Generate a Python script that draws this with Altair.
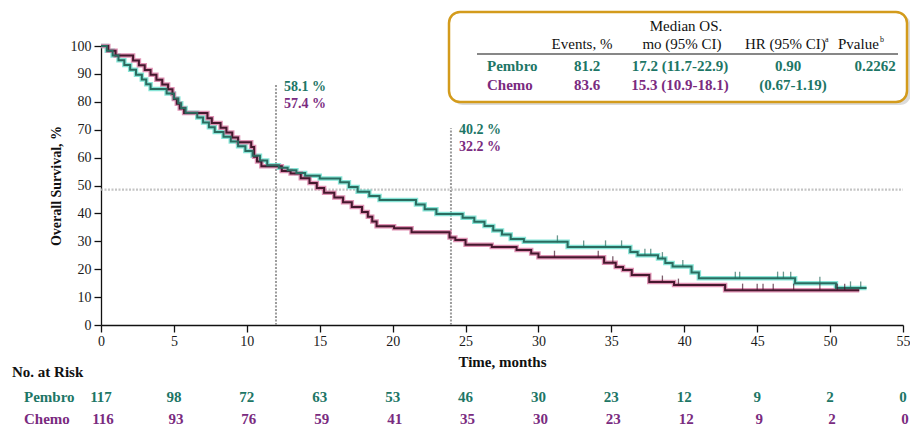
import altair as alt
import pandas as pd
import numpy as np

FONT = "Liberation Serif"
TEAL = "#1d7666"
PURPLE = "#7a2b7f"
TEAL_LINE = "#2a6c60"
TEAL_GLOW = "#5fdcc9"
PURP_LINE = "#46182e"
PURP_GLOW = "#d66f9c"
GOLD = "#d39b1c"

# ---------------- data ----------------
pembro_t = [0, 0.4, 0.8, 1.2, 1.6, 2.0, 2.4, 2.8, 3.1, 3.4, 4.5, 5.0, 5.3, 5.5, 5.8, 6.6, 7.0, 7.4,
            7.8, 8.4, 8.9, 9.4, 9.9, 10.4, 10.9, 11.4, 12.2, 12.8, 13.4, 14.0, 15.0, 16.4, 17.0, 17.6,
            18.4, 19.1, 21.6, 22.2, 23.0, 24.8, 25.6, 26.3, 26.9, 27.5, 28.1, 29.0, 32.0, 36.3, 36.8,
            38.2, 38.7, 39.2, 40.5, 41.0, 47.6, 50.4]
pembro_s = [100, 98.3, 96.6, 94.9, 93.2, 91.5, 89.7, 88.0, 86.3, 84.6, 83.0, 81.2, 79.5, 77.8, 76.1, 74.4, 72.6, 70.9,
            69.2, 67.5, 65.8, 64.1, 62.4, 60.7, 59.0, 57.3, 56.4, 55.5, 54.5, 53.5, 52.5, 51.2, 49.5, 47.8,
            46.2, 44.8, 43.2, 41.5, 39.8, 38.4, 37.0, 35.5, 33.9, 32.4, 30.8, 29.8, 28.0, 26.2, 25.0,
            23.8, 22.2, 21.0, 18.8, 16.8, 15.0, 13.3]
pembro_end = 52.5
pembro_cens = [31.3, 33.1, 34.6, 35.7, 37.3, 37.7, 38.5, 39.9, 43.5, 43.8, 46.4, 46.8, 47.3, 49.3, 51.4, 52.1]

chemo_t = [0, 0.5, 1.0, 2.2, 2.6, 3.0, 3.4, 3.8, 4.2, 4.6, 4.9, 5.0, 5.2, 5.4, 5.7, 7.3, 7.6, 8.2, 8.6,
           9.0, 9.4, 10.3, 10.5, 10.7, 11.0, 12.4, 13.0, 13.7, 14.3, 14.8, 15.3, 16.0, 16.6, 17.2, 17.9,
           18.3, 18.6, 18.9, 20.1, 21.3, 23.9, 24.3, 25.0, 26.8, 28.5, 29.5, 30.0, 34.5, 35.3, 35.8,
           36.4, 37.6, 39.3, 42.8]
chemo_s = [100, 98.3, 96.6, 94.8, 93.1, 91.4, 89.7, 87.9, 86.2, 84.5, 82.8, 81.0, 79.3, 77.6, 76.0, 74.1, 72.4, 70.7, 69.0,
           67.2, 65.5, 63.8, 60.3, 58.6, 56.9, 55.2, 54.3, 52.6, 50.9, 49.1, 47.4, 45.7, 44.0, 42.3, 40.5,
           38.8, 37.1, 35.4, 34.7, 33.2, 31.4, 30.5, 28.8, 28.0, 26.9, 25.6, 24.3, 22.3, 20.8, 19.7,
           17.9, 15.4, 14.3, 12.5]
chemo_end = 52.0
chemo_cens = [31.1, 34.1, 35.1, 38.5, 39.6, 44.0, 45.0, 45.4, 46.1, 47.5, 49.3, 50.5, 51.0]

risk_times = [0, 5, 10, 15, 20, 25, 30, 35, 40, 45, 50, 55]
risk_pembro = [117, 98, 72, 63, 53, 46, 30, 23, 12, 9, 2, 0]
risk_chemo = [116, 93, 76, 59, 41, 35, 30, 23, 12, 9, 2, 0]

landmark_t = [12, 24]
landmark_top = [86, 70.5]
landmark_pembro = ["58.1 %", "40.2 %"]
landmark_chemo = ["57.4 %", "32.2 %"]
median_level = 48.5

pembro_row = ["Pembro", "81.2", "17.2 (11.7-22.9)", "0.90", "0.2262"]
chemo_row = ["Chemo", "83.6", "15.3 (10.9-18.1)", "(0.67-1.19)"]

# ---------------- frames ----------------
def curve_df(t, s, end):
    return pd.DataFrame({"t": list(t) + [end], "s": list(s) + [s[-1]]})

def cens_df(t, s, cens):
    ta = np.array(t)
    idx = np.searchsorted(ta, np.array(cens), side="right") - 1
    return pd.DataFrame({"t": cens, "s": np.array(s)[idx]})

pem = curve_df(pembro_t, pembro_s, pembro_end)
che = curve_df(chemo_t, chemo_s, chemo_end)
pem_c = cens_df(pembro_t, pembro_s, pembro_cens)
che_c = cens_df(chemo_t, chemo_s, chemo_cens)

xscale = alt.Scale(domain=[0, 55], nice=False, zero=False)
yscale = alt.Scale(domain=[0, 100], nice=False, zero=False)

XAXIS = alt.Axis(values=list(range(0, 56, 5)), tickSize=7, labelPadding=2, grid=False, labelFlush=False,
                 labelFont=FONT, labelFontSize=14, labelColor="#1a1a1a",
                 titleFont=FONT, titleFontSize=15, titleFontWeight="bold", titleColor="#111",
                 titlePadding=6, domainColor="#111", domainWidth=1.3, tickColor="#111", tickWidth=1.3)
YAXIS = alt.Axis(values=list(range(0, 101, 10)), tickSize=7, labelPadding=3, grid=False, labelFlush=False,
                 labelFont=FONT, labelFontSize=14, labelColor="#1a1a1a",
                 titleFont=FONT, titleFontSize=14, titleFontWeight="bold", titleColor="#111",
                 titlePadding=7, domainColor="#111", domainWidth=1.3, tickColor="#111", tickWidth=1.3)

X = alt.X("t:Q", scale=xscale, title="Time, months", axis=XAXIS)
Y = alt.Y("s:Q", scale=yscale, title="Overall Survival, %", axis=YAXIS)
Ytop = alt.Y("top:Q", scale=yscale, title="Overall Survival, %", axis=YAXIS)

layers = []

# reference lines
vdf = pd.DataFrame({"t": landmark_t, "s": [0, 0], "top": landmark_top})
vlines = alt.Chart(vdf).mark_rule(color="#9c9c9c", strokeWidth=2, strokeDash=[2, 1.5]).encode(
    x=X, y=Y, y2="top:Q")
hdf = pd.DataFrame({"t": [0], "t2": [55], "s": [median_level]})
hline = alt.Chart(hdf).mark_rule(color="#b5b5b5", strokeWidth=2.2, strokeDash=[2, 1.5], opacity=0.8).encode(
    x=X, x2="t2:Q", y=Y)
layers += [vlines, hline]

# curves
for df, col in [(pem, TEAL_GLOW), (che, PURP_GLOW)]:
    layers.append(alt.Chart(df).mark_line(interpolate="step-after", color=col, strokeWidth=4.5,
                                          opacity=0.75).encode(x=X, y=Y))
for df, col in [(che, PURP_LINE), (pem, TEAL_LINE)]:
    layers.append(alt.Chart(df).mark_line(interpolate="step-after", color=col, strokeWidth=2).encode(x=X, y=Y))
for df, col in [(che_c, PURP_LINE), (pem_c, TEAL_LINE)]:
    layers.append(alt.Chart(df).mark_tick(orient="vertical", size=7, thickness=1.3, color=col,
                                          yOffset=-3).encode(x=X, y=Y))

# landmark labels
ldf = pd.DataFrame({"t": landmark_t, "top": landmark_top, "p": landmark_pembro, "c": landmark_chemo})
for fld, col, dy in [("p", TEAL, 2), ("c", PURPLE, 19)]:
    layers.append(alt.Chart(ldf).mark_text(align="left", baseline="middle", dx=8, dy=dy, font=FONT,
                                           fontSize=14, fontWeight="bold", color=col).encode(
        x=X, y=Ytop, text=f"{fld}:N"))

# at-risk table
rdf = pd.DataFrame({"t": risk_times, "p": risk_pembro, "c": risk_chemo})
layers.append(alt.Chart(rdf).mark_text(align="center", baseline="middle", font=FONT, fontSize=15,
                                       fontWeight="bold", color=TEAL).encode(
    x=X, y=alt.value(351), text="p:Q"))
layers.append(alt.Chart(rdf).mark_text(align="center", baseline="middle", dx=2, font=FONT, fontSize=15,
                                       fontWeight="bold", color=PURPLE).encode(
    x=X, y=alt.value(373), text="c:Q"))

one = pd.DataFrame({"a": [0]})

def txt(text, x, y, color="#111", bold=False, align="center", size=15):
    return alt.Chart(one).mark_text(text=text, align=align, baseline="middle", font=FONT, fontSize=size,
                                    fontWeight="bold" if bold else "normal", color=color).encode(
        x=alt.value(x), y=alt.value(y))

layers.append(txt("No. at Risk", -89, 326, bold=True, align="left"))
layers.append(txt("Pembro", -77, 351, color=TEAL, bold=True, align="left"))
layers.append(txt("Chemo", -77, 373, color=PURPLE, bold=True, align="left"))

# legend box
layers.append(alt.Chart(one).mark_rect(cornerRadius=11, fill="#888", opacity=0.3).encode(
    x=alt.value(351), x2=alt.value(810), y=alt.value(-31), y2=alt.value(59)))
layers.append(alt.Chart(one).mark_rect(cornerRadius=11, fill="white", stroke=GOLD, strokeWidth=2.5).encode(
    x=alt.value(348), x2=alt.value(806), y=alt.value(-34), y2=alt.value(56)))
layers.append(alt.Chart(one).mark_rule(color="#111", strokeWidth=1.2).encode(
    x=alt.value(376), x2=alt.value(797), y=alt.value(8)))

layers.append(txt("Median OS.", 585, -20))
layers.append(txt("Events, %", 481, -2))
layers.append(txt("mo (95% CI)", 581, -2))
layers.append(txt("HR (95% CI)", 644, -2, align="left"))
layers.append(txt("a", 724, -6, align="left", size=8))
layers.append(txt("Pvalue", 737, -2, align="left"))
layers.append(txt("b", 779, -6, align="left", size=8))

col_x = [386, 486, 579, 687, 774]
for i, v in enumerate(pembro_row):
    layers.append(txt(v, col_x[i], 20, color=TEAL, bold=True, align="left" if i == 0 else "center"))
for i, v in enumerate(chemo_row):
    c = TEAL if i == 3 else PURPLE
    x = col_x[i] + (5 if i == 3 else 0)
    layers.append(txt(v, x, 39, color=c, bold=True, align="left" if i == 0 else "center"))

chart = alt.layer(*layers).properties(
    width=802, height=279,
    autosize=alt.AutoSizeParams(type="none"),
    padding={"left": 93, "top": 38, "right": 7, "bottom": 101},
    background="white",
).configure_view(stroke=None)

chart.save("out.html", embed_options={"renderer": "svg", "actions": False})
